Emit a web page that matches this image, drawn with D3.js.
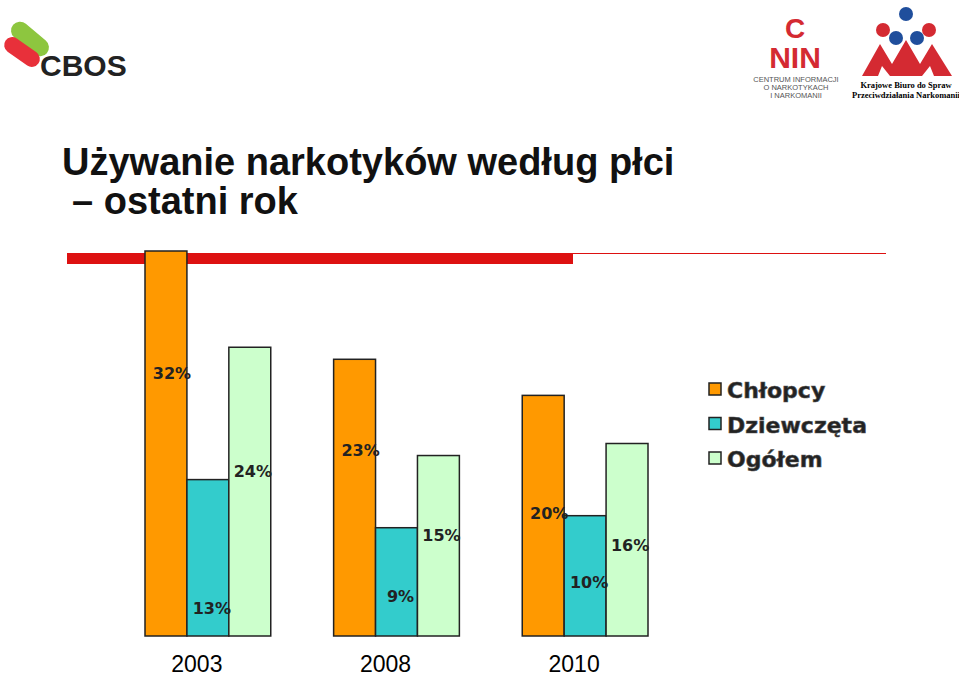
<!DOCTYPE html><html><head><meta charset="utf-8"><script src="https://cdn.jsdelivr.net/npm/d3@7"></script>
<style>body{margin:0;background:#fff}</style></head><body><svg id="c" width="959" height="674"></svg>
<script>
const years=["2003","2008","2010"];
const series=["Chłopcy","Dziewczęta","Ogółem"];
const chlopcy=[32,23,20];
const dziewczeta=[13,9,10];
const ogolem=[24,15,16];
// vertical level (in % units of the value scale) where each data label sits, as in the picture
const labelLevelChlopcy=[21.4,15,9.7];
const labelLevelDziewczeta=[1.8,2.8,4];
const labelLevelOgolem=[13.2,7.9,7.1];
const colors=["#ff9900","#33cccc","#ccffcc"];
const vals=[chlopcy,dziewczeta,ogolem], lev=[labelLevelChlopcy,labelLevelDziewczeta,labelLevelOgolem];
const svg=d3.select("#c");
const y=d3.scaleLinear().domain([0,32]).range([636,251]);
const x0=d3.scaleBand().domain(years).range([145,648]).paddingInner(0.3333).paddingOuter(0);
const x1=d3.scaleBand().domain(series).range([0,x0.bandwidth()]);
svg.append("text").attr("x",62).attr("y",175).attr("font-family","Liberation Sans,Arial").attr("font-weight","bold").attr("font-size",38).attr("fill","#111").text("Używanie narkotyków według płci");
svg.append("text").attr("x",72).attr("y",214).attr("font-family","Liberation Sans,Arial").attr("font-weight","bold").attr("font-size",38).attr("fill","#111").text("– ostatni rok");
svg.append("rect").attr("x",67).attr("y",253).attr("width",506).attr("height",11).attr("fill","#dd1111");
svg.append("line").attr("x1",573).attr("x2",886).attr("y1",253.5).attr("y2",253.5).attr("stroke","#dd1111").attr("stroke-width",1);
years.forEach((yr,i)=>{series.forEach((s,j)=>{
 const v=vals[j][i];
 svg.append("rect").attr("x",x0(yr)+x1(s)).attr("y",y(v)).attr("width",x1.bandwidth()).attr("height",y(0)-y(v)).attr("fill",colors[j]).attr("stroke","#222").attr("stroke-width",1.5);
});});
years.forEach((yr,i)=>{series.forEach((s,j)=>{
 svg.append("text").attr("x",x0(yr)+x1(s)+x1.bandwidth()/2+(j==0?6:j==1?4:3)).attr("y",y(lev[j][i])).attr("text-anchor","middle")
 .attr("font-family","DejaVu Sans").attr("font-weight","bold").attr("font-size",16).attr("fill","#222").text(vals[j][i]+"%");
});});
years.forEach(yr=>svg.append("text").attr("x",x0(yr)+x0.bandwidth()/2-11).attr("y",672).attr("text-anchor","middle").attr("font-family","Liberation Sans,Arial").attr("font-size",23).text(yr));
series.forEach((s,j)=>{
 svg.append("rect").attr("x",709).attr("y",383+j*34.5).attr("width",12).attr("height",12).attr("fill",colors[j]).attr("stroke","#222").attr("stroke-width",1.5);
 svg.append("text").attr("x",727).attr("y",398+j*34.5).attr("font-family","DejaVu Sans").attr("font-weight","bold").attr("font-size",22).attr("fill","#222").attr("stroke","#555").attr("stroke-width",0.6).text(s);
});
const g=svg.append("g");
g.append("rect").attr("x",8).attr("y",30).attr("width",44).attr("height",18).attr("rx",9).attr("fill","#8dc63f").attr("transform","rotate(40 30 39)");
g.append("rect").attr("x",2).attr("y",44).attr("width",40).attr("height",16).attr("rx",8).attr("fill","#e8303a").attr("transform","rotate(35 22 52)");
g.append("text").attr("x",40).attr("y",76).attr("font-family","Liberation Sans,Arial").attr("font-weight","bold").attr("font-size",30).attr("fill","#222").text("CBOS");
svg.append("text").attr("x",795).attr("y",38).attr("text-anchor","middle").attr("font-family","Liberation Sans").attr("font-weight","bold").attr("font-size",28).attr("fill","#d42a32").text("C");
svg.append("text").attr("x",795).attr("y",68).attr("text-anchor","middle").attr("font-family","Liberation Sans").attr("font-weight","bold").attr("font-size",30).attr("fill","#d42a32").text("NIN");
["CENTRUM INFORMACJI","O NARKOTYKACH","I NARKOMANII"].forEach((t,i)=>svg.append("text").attr("x",796).attr("y",82+i*8).attr("text-anchor","middle").attr("font-family","Liberation Sans").attr("font-size",7.5).attr("fill","#555").text(t));
[[906,14,"#1f4e9c"],[883,30,"#d42a32"],[929,30,"#d42a32"],[896,38,"#1f4e9c"],[917,38,"#1f4e9c"]].forEach(d=>svg.append("circle").attr("cx",d[0]).attr("cy",d[1]).attr("r",7).attr("fill",d[2]));
svg.append("path").attr("d","M862,76 L880,44 L892,64 L906,40 L920,64 L932,44 L952,76 L934,76 L930,66 L922,76 L890,76 L882,66 L878,76 Z").attr("fill","#d42a32");
svg.append("text").attr("x",906).attr("y",88).attr("text-anchor","middle").attr("font-family","Liberation Serif").attr("font-weight","bold").attr("font-size",8.5).text("Krajowe Biuro do Spraw");
svg.append("text").attr("x",906).attr("y",98).attr("text-anchor","middle").attr("font-family","Liberation Serif").attr("font-weight","bold").attr("font-size",8.5).text("Przeciwdziałania Narkomanii");
</script></body></html>
